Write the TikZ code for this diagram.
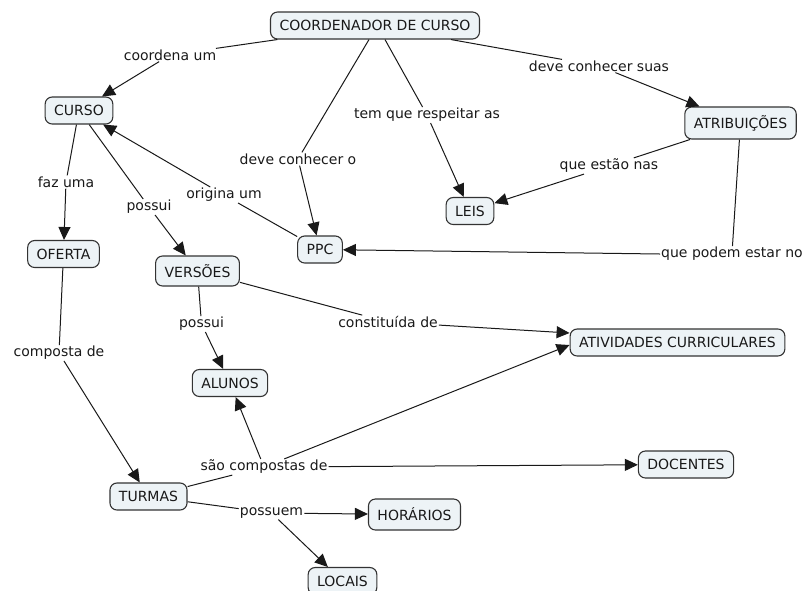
\documentclass[tikz,border=0pt]{standalone}
\usepackage{fontspec}
\setmainfont{DejaVu Sans}
\usetikzlibrary{arrows.meta}
\definecolor{boxfill}{HTML}{EDF3F6}
\definecolor{boxline}{HTML}{333333}
\tikzset{
  concept/.style={draw=boxline, line width=1.1pt, fill=boxfill, rounded corners=7pt,
    font=\fontsize{14pt}{16pt}\selectfont, inner xsep=9pt, minimum height=27pt, text=black!90},
  linklabel/.style={font=\fontsize{14pt}{16pt}\selectfont, inner sep=1pt, text=black!90},
  conn/.style={line width=1pt, draw=black!90},
  arr/.style={conn, -{Triangle[length=13pt,width=12pt]}}
}
\begin{document}
\begin{tikzpicture}[x=1pt,y=-1pt]
\useasboundingbox (0,0) rectangle (802,590);
\clip (0,0) rectangle (802,590);
% concepts
\node[concept] (coord) at (375,25.5) {COORDENADOR DE CURSO};
\node[concept] (curso) at (79,110.5) {CURSO};
\node[concept] (oferta) at (63.5,254) {OFERTA};
\node[concept, minimum height=30pt] (versoes) at (197.5,271) {VERSÕES};
\node[concept] (ppc) at (320,249.5) {PPC};
\node[concept] (leis) at (470,211) {LEIS};
\node[concept, minimum height=32pt] (atrib) at (740.5,123) {ATRIBUIÇÕES};
\node[concept] (alunos) at (230,383) {ALUNOS};
\node[concept] (turmas) at (148.5,496.5) {TURMAS};
\node[concept, minimum height=31pt] (horarios) at (414.5,514.5) {HORÁRIOS};
\node[concept] (locais) at (342.5,581) {LOCAIS};
\node[concept] (ativ) at (677.5,342.5) {ATIVIDADES CURRICULARES};
\node[concept] (docentes) at (686,464.5) {DOCENTES};
% link labels
\node[linklabel] (l1) at (170,55) {coordena um};
\node[linklabel] (l2) at (66,182) {faz uma};
\node[linklabel] (l3) at (149,207) {possui};
\node[linklabel] (l4) at (224,195) {origina um};
\node[linklabel] (l5) at (298,159) {deve conhecer o};
\node[linklabel] (l6) at (427,115) {tem que respeitar as};
\node[linklabel] (l7) at (599,66) {deve conhecer suas};
\node[linklabel] (l8) at (609,166) {que estão nas};
\node[linklabel, anchor=west] (l9) at (660,254) {que podem estar no};
\node[linklabel] (l10) at (201.5,324) {possui};
\node[linklabel] (l11) at (388,322) {constituída de};
\node[linklabel] (l12) at (59,353) {composta de};
\node[linklabel] (l13) at (264,467) {são compostas de};
\node[linklabel] (l14) at (271.5,513) {possuem};
% anchor points on box borders
\coordinate (c5) at ([xshift=99pt]coord.south west);
\coordinate (c6) at ([xshift=115pt]coord.south west);
\coordinate (c7) at ([xshift=-29pt]coord.south east);
\coordinate (a11) at ([yshift=9.5pt]ativ.west);
\coordinate (a13) at ([yshift=-2.5pt]ativ.west);
% connectors
\draw[conn] (coord) -- (l1); \draw[arr] (l1) -- (curso);
\draw[conn] (c5) -- (l5); \draw[arr] (l5) -- (ppc);
\draw[conn] (c6) -- (l6); \draw[arr] (l6) -- (leis);
\draw[conn] (c7) -- (l7); \draw[arr] (l7) -- (atrib);
\draw[conn] (atrib) -- (l8); \draw[arr] (l8) -- (leis);
\draw[conn] (atrib) -- (l9); \draw[arr] (l9.west) -- (ppc);
\draw[conn] (ppc) -- (l4); \draw[arr] (l4) -- (curso);
\draw[conn] (curso) -- (l2); \draw[arr] (l2) -- (oferta);
\draw[conn] (curso) -- (l3); \draw[arr] (l3) -- (versoes);
\draw[conn] (oferta) -- (l12); \draw[arr] (l12) -- (turmas);
\draw[conn] (versoes) -- (l10); \draw[arr] (l10) -- (alunos);
\draw[conn] (versoes) -- (l11); \draw[arr] (l11) -- (a11);
\draw[conn] (turmas) -- (l13);
\draw[arr] (l13) -- (alunos);
\draw[arr] (l13) -- (a13);
\draw[arr] (l13) -- (docentes);
\draw[conn] (turmas) -- (l14);
\draw[arr] (l14) -- (horarios);
\draw[arr] (l14) -- (locais);
\end{tikzpicture}
\end{document}
